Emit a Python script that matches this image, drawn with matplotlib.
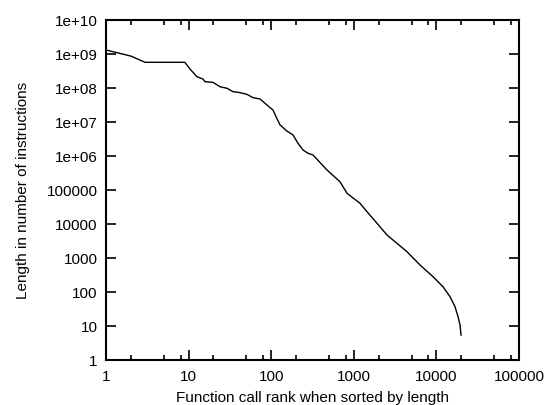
import matplotlib
matplotlib.use("Agg")
import matplotlib.pyplot as plt
from matplotlib.ticker import FixedLocator, NullFormatter

plt.rcParams['font.family'] = ['Liberation Sans', 'DejaVu Sans']

rank = [1, 2.0, 2.97, 9.0, 10.4, 12.6, 14.9, 15.8, 19.7, 24.0, 29.2, 34.5, 41.9, 50.9,
        60.2, 73.2, 89.0, 105, 117, 128, 155, 184, 211, 243, 279, 321, 474, 680, 828,
        1189, 1445, 1910, 2522, 3334, 4406, 6330, 9100, 12020, 14620, 16800, 18270,
        19320, 19860]
length = [1.31e9, 8.7e8, 5.7e8, 5.7e8, 3.62e8, 2.15e8, 1.84e8, 1.53e8, 1.47e8, 1.09e8,
          9.8e7, 7.8e7, 7.3e7, 6.5e7, 5.2e7, 4.75e7, 3.16e7, 2.25e7, 1.28e7, 8.2e6, 5.4e6,
          4.15e6, 2.37e6, 1.5e6, 1.2e6, 1.07e6, 3.87e5, 1.75e5, 8.0e4, 4.06e4, 2.3e4,
          1.05e4, 4.75e3, 2.7e3, 1.53e3, 623, 282, 143, 72.8, 37, 18.8, 10.7, 5.4]

xticks = [1, 10, 100, 1000, 10000, 100000]
xticklabels = ["1", "10", "100", "1000", "10000", "100000"]
yticks = [1, 10, 100, 1000, 1e4, 1e5, 1e6, 1e7, 1e8, 1e9, 1e10]
yticklabels = ["1", "10", "100", "1000", "10000", "100000", "1e+06", "1e+07",
               "1e+08", "1e+09", "1e+10"]
xminor = [m * 10 ** d for d in range(5) for m in (2, 5, 8)]

fig = plt.figure(figsize=(5.46, 4.05), dpi=100)
ax = fig.add_axes([106 / 546, 45 / 405, 413 / 546, 340 / 405])
ax.plot(rank, length, color='black', lw=1.0)
ax.set_xscale('log')
ax.set_yscale('log')
ax.set_xlim(1, 1e5)
ax.set_ylim(1, 1e10)
ax.xaxis.set_major_locator(FixedLocator(xticks))
ax.set_xticklabels(xticklabels)
ax.xaxis.set_minor_locator(FixedLocator(xminor))
ax.xaxis.set_minor_formatter(NullFormatter())
ax.yaxis.set_major_locator(FixedLocator(yticks))
ax.set_yticklabels(yticklabels)
ax.yaxis.set_minor_locator(FixedLocator([]))
ax.tick_params(which='both', direction='in', top=True, right=True, labelsize=11, width=1.2)
ax.tick_params(axis='y', which='major', length=7, pad=6)
ax.tick_params(axis='x', which='major', length=7, pad=7)
ax.tick_params(which='minor', length=3.5)
for s in ax.spines.values():
    s.set_linewidth(1.5)
ax.set_xlabel("Function call rank when sorted by length", fontsize=11, labelpad=5)
ax.set_ylabel("Length in number of instructions", fontsize=11, labelpad=12)
fig.savefig("out.png", dpi=100)
